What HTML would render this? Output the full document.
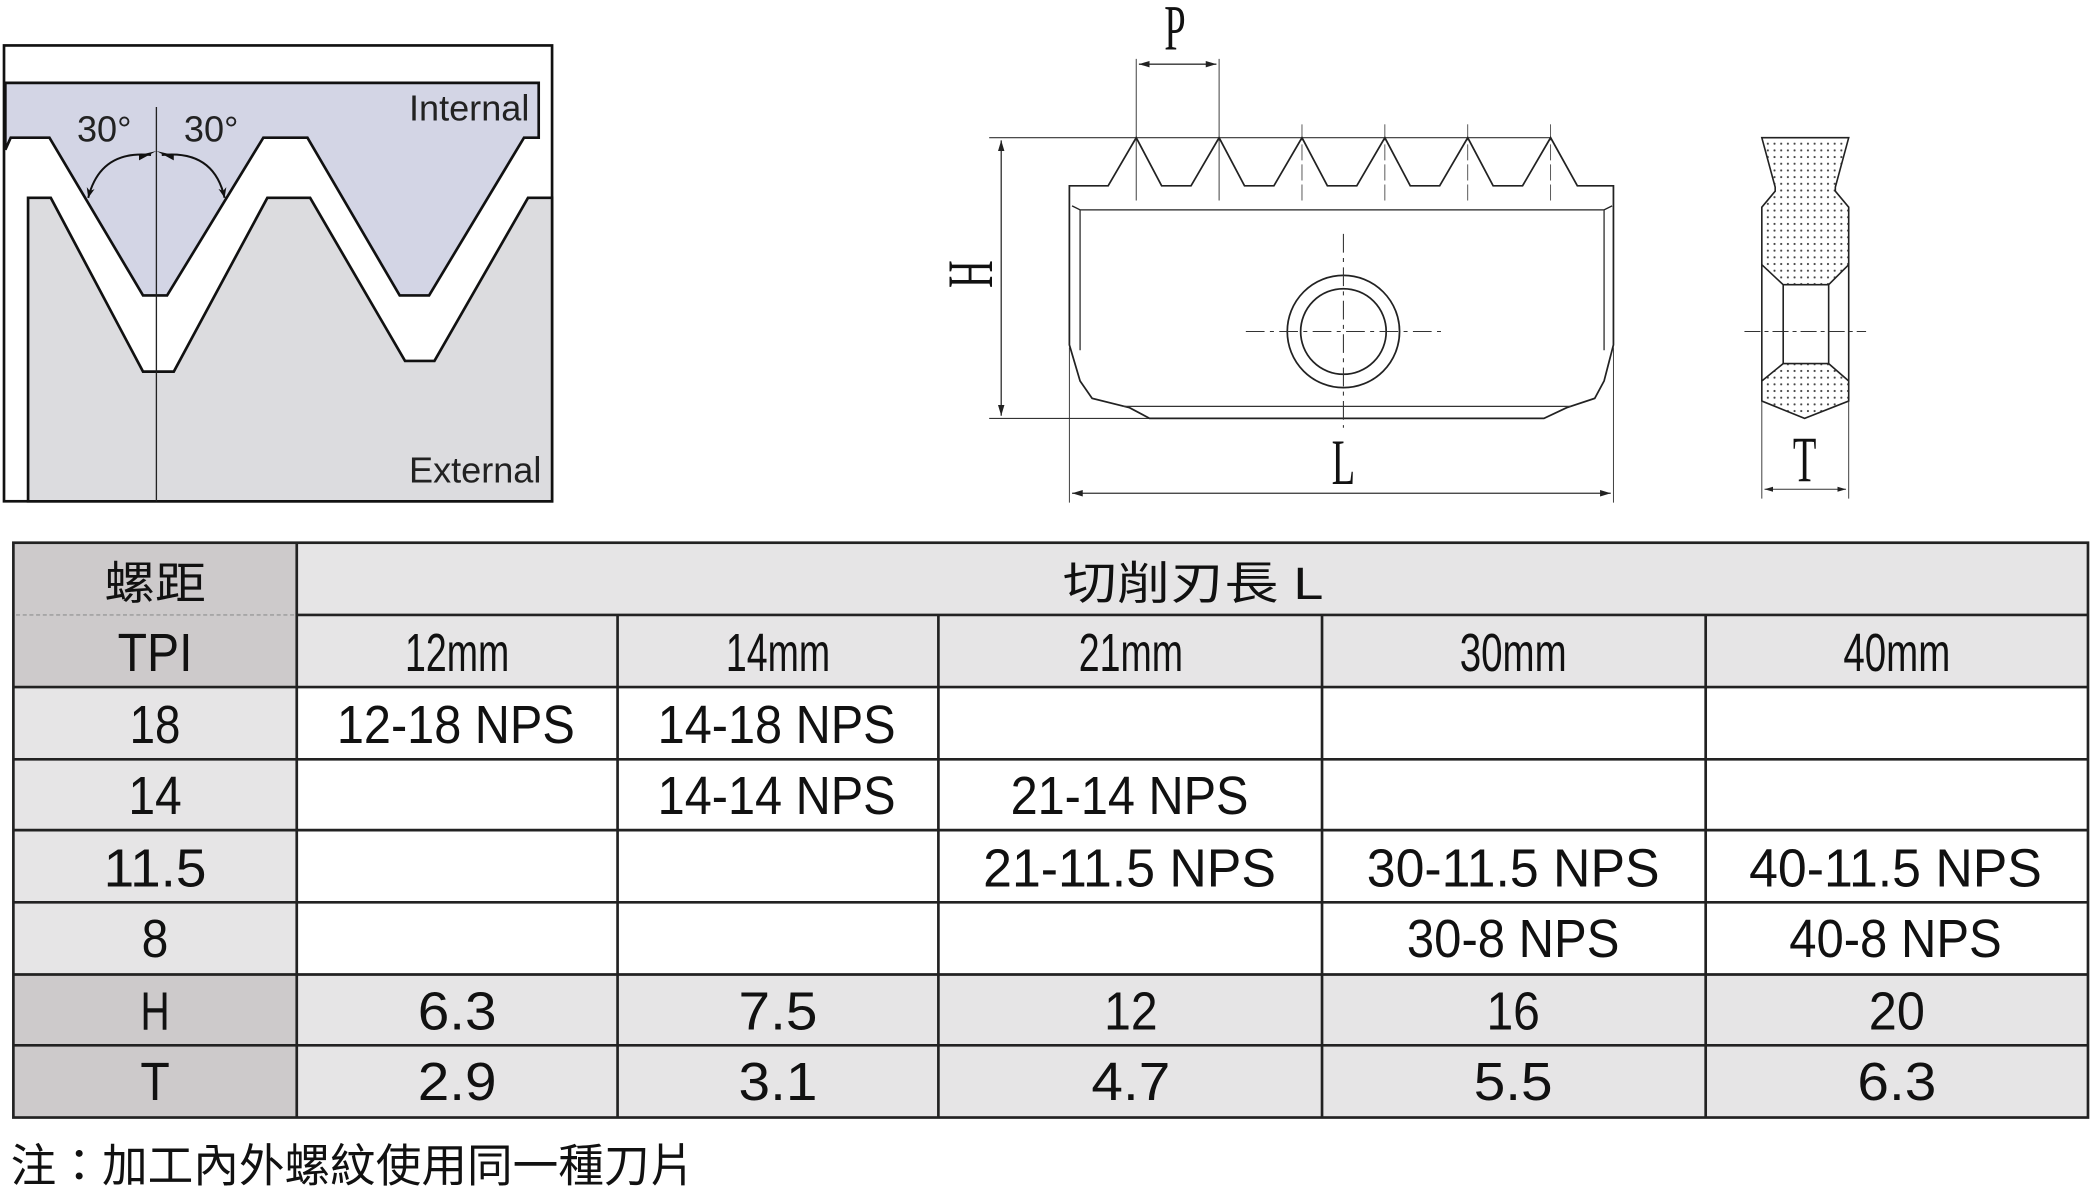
<!DOCTYPE html>
<html><head><meta charset="utf-8"><style>
html,body{margin:0;padding:0;background:#fff;}
svg{display:block;}
.t{font-family:"Liberation Sans Narrow","Liberation Sans","Noto Sans CJK TC",sans-serif;font-size:40px;fill:#111;text-anchor:middle;}
.c{font-family:"Liberation Sans","Noto Sans CJK TC",sans-serif;font-size:34px;fill:#111;}
.s{font-family:"Liberation Serif",serif;fill:#111;text-anchor:middle;}
</style></head><body>
<svg width="2096" height="1198" viewBox="0 0 1568 896.2" preserveAspectRatio="none" xmlns="http://www.w3.org/2000/svg">
<defs>
<pattern id="dots" width="5" height="5" patternUnits="userSpaceOnUse"><rect width="5" height="5" fill="#fff"/><circle cx="2.5" cy="2.5" r="0.8" fill="#444"/></pattern>
<marker id="ar" viewBox="0 0 10 10" refX="10" refY="5" markerWidth="8" markerHeight="8" orient="auto-start-reverse"><path d="M0,2 L10,5 L0,8 Z" fill="#222"/></marker>
<marker id="ar2" viewBox="0 0 10 10" refX="10" refY="5" markerWidth="5" markerHeight="5" orient="auto"><path d="M0,1 L10,5 L0,9 L3,5 Z" fill="#111"/></marker>
</defs>

<rect x="3" y="34" width="410" height="341" fill="#fff" stroke="#111" stroke-width="2"/>
<path d="M4,62 L403,62 L403,103 L392,103 L321,221 L299,221 L230,103 L197,103 L125,221 L107,221 L37,103 L8,103 L4,112 Z" fill="#d3d5e5" stroke="#111" stroke-width="2"/>
<path d="M21,375 L21,148 L38,148 L107,278 L130,278 L200,148 L232,148 L303,270 L325,270 L395,148 L413,148 L413,375 Z" fill="#dcdcdf" stroke="#111" stroke-width="2"/>
<line x1="117" y1="80" x2="117" y2="375" stroke="#222" stroke-width="1"/>
<path d="M113,116 Q75,112 66,148" fill="none" stroke="#111" stroke-width="1.5" marker-end="url(#ar2)"/>
<path d="M121,116 Q160,112 168,148" fill="none" stroke="#111" stroke-width="1.5" marker-end="url(#ar2)"/>
<path d="M104,116 L117,113 L104,120 Z M130,116 L117,113 L130,120 Z" fill="#111"/>
<text x="78" y="106" font-family="Liberation Sans" font-size="27" fill="#222" text-anchor="middle">30°</text>
<text x="158" y="106" font-family="Liberation Sans" font-size="27" fill="#222" text-anchor="middle">30°</text>
<text x="396" y="90" font-family="Liberation Sans" font-size="27" fill="#222" text-anchor="end">Internal</text>
<text x="405" y="361" font-family="Liberation Sans" font-size="27" fill="#222" text-anchor="end">External</text>

<g stroke="#333" fill="none" stroke-width="1">
<line x1="740" y1="103" x2="1160" y2="103" stroke-width="0.8"/>
<line x1="740" y1="313" x2="860" y2="313" stroke-width="0.8"/>
<line x1="749" y1="105" x2="749" y2="311" marker-start="url(#ar)" marker-end="url(#ar)"/>
<line x1="850" y1="44" x2="850" y2="150" stroke-width="0.7"/>
<line x1="912" y1="44" x2="912" y2="150" stroke-width="0.7"/>
<line x1="852" y1="48" x2="910" y2="48" marker-start="url(#ar)" marker-end="url(#ar)"/>
<line x1="974" y1="93" x2="974" y2="150" stroke-width="0.6" stroke-dasharray="12,3"/>
<line x1="1036" y1="93" x2="1036" y2="150" stroke-width="0.6" stroke-dasharray="12,3"/>
<line x1="1098" y1="93" x2="1098" y2="150" stroke-width="0.6" stroke-dasharray="12,3"/>
<line x1="1160" y1="93" x2="1160" y2="150" stroke-width="0.6" stroke-dasharray="12,3"/>
<path d="M800,139 L829,139 L850,103 L869,139 L891,139 L912,103 L931,139 L953,139 L974,103 L993,139 L1015,139 L1036,103 L1055,139 L1077,139 L1098,103 L1117,139 L1139,139 L1160,103 L1180,139 L1207,139 L1207,258 L1200,285 L1193,298 L1172,305 L1155,313 L860,313 L845,305 L817,298 L808,285 L800,258 Z" stroke="#222" stroke-width="1.3"/>
<path d="M802,154 L808,157 L1200,157 L1206,154" stroke="#222"/>
<line x1="808" y1="157" x2="808" y2="262"/>
<line x1="1200" y1="157" x2="1200" y2="262"/>
<line x1="840" y1="304" x2="1175" y2="304"/>
<circle cx="1005" cy="248" r="42" stroke="#222" stroke-width="1.3"/>
<circle cx="1005" cy="248" r="32" stroke="#222" stroke-width="1.3"/>
<line x1="932" y1="248" x2="1078" y2="248" stroke-dasharray="14,4,3,4" stroke-width="0.8"/>
<line x1="1005" y1="175" x2="1005" y2="320" stroke-dasharray="14,4,3,4" stroke-width="0.8"/>
<line x1="800" y1="260" x2="800" y2="376" stroke-width="0.7"/>
<line x1="1207" y1="260" x2="1207" y2="376" stroke-width="0.7"/>
<line x1="802" y1="369" x2="1205" y2="369" marker-start="url(#ar)" marker-end="url(#ar)"/>
</g>
<text class="s" x="879" y="37" font-size="48" transform="translate(879 0) scale(0.6 1) translate(-879 0)">P</text>
<text class="s" x="1005" y="362" font-size="48" transform="translate(1005 0) scale(0.6 1) translate(-1005 0)">L</text>
<text class="s" x="0" y="0" font-size="48" transform="translate(742 205) rotate(-90) scale(0.6 1)">H</text>

<g stroke="#222" stroke-width="1.2">
<path d="M1318,103 L1383,103 L1373,140 L1373,143 L1383,155 L1383,198 L1368,213 L1334,213 L1318,198 L1318,155 L1328,143 L1328,140 Z" fill="url(#dots)"/>
<path d="M1334,272 L1368,272 L1383,285 L1383,300 L1350,313 L1318,300 L1318,285 Z" fill="url(#dots)"/>
<line x1="1318" y1="198" x2="1318" y2="285"/>
<line x1="1383" y1="198" x2="1383" y2="285"/>
<line x1="1334" y1="213" x2="1334" y2="272"/>
<line x1="1368" y1="213" x2="1368" y2="272"/>
</g>
<g stroke="#333" stroke-width="0.8" fill="none">
<line x1="1305" y1="248" x2="1396" y2="248" stroke-dasharray="12,3,3,3"/>
<line x1="1318" y1="300" x2="1318" y2="373" stroke-width="0.7"/>
<line x1="1383" y1="300" x2="1383" y2="373" stroke-width="0.7"/>
<line x1="1320" y1="366" x2="1381" y2="366" marker-start="url(#ar)" marker-end="url(#ar)"/>
</g>
<text class="s" x="1350" y="360" font-size="48" transform="translate(1350 0) scale(0.6 1) translate(-1350 0)">T</text>

<g>
<rect x="10" y="406" width="212" height="108" fill="#cdcacb"/>
<rect x="222" y="406" width="1340" height="108" fill="#e6e5e6"/>
<rect x="10" y="514" width="212" height="215" fill="#e6e5e6"/>
<rect x="222" y="514" width="1340" height="215" fill="#fff"/>
<rect x="10" y="729" width="212" height="107" fill="#cdcacb"/>
<rect x="222" y="729" width="1340" height="107" fill="#e6e5e6"/>
</g>
<g stroke="#222" stroke-width="2">
<rect x="10" y="406" width="1552" height="430" fill="none"/>
<line x1="222" y1="460" x2="1562" y2="460"/>
<line x1="10" y1="514" x2="1562" y2="514"/>
<line x1="10" y1="568" x2="1562" y2="568"/>
<line x1="10" y1="621" x2="1562" y2="621"/>
<line x1="10" y1="675" x2="1562" y2="675"/>
<line x1="10" y1="729" x2="1562" y2="729"/>
<line x1="10" y1="782" x2="1562" y2="782"/>
<line x1="222" y1="406" x2="222" y2="836"/>
<line x1="462" y1="460" x2="462" y2="836"/>
<line x1="702" y1="460" x2="702" y2="836"/>
<line x1="989" y1="460" x2="989" y2="836"/>
<line x1="1276" y1="460" x2="1276" y2="836"/>
</g>
<line x1="12" y1="460" x2="220" y2="460" stroke="#999" stroke-width="1" stroke-dasharray="3,2"/>

<text class="c" x="78" y="448" textLength="76" lengthAdjust="spacingAndGlyphs">螺距</text>
<text class="c" x="795" y="448" textLength="195" lengthAdjust="spacingAndGlyphs">切削刃長 L</text>
<g class="t">
<text x="116" y="502" textLength="56" lengthAdjust="spacingAndGlyphs">TPI</text>
<text x="342" y="502" textLength="78" lengthAdjust="spacingAndGlyphs">12mm</text>
<text x="582" y="502" textLength="78" lengthAdjust="spacingAndGlyphs">14mm</text>
<text x="846" y="502" textLength="78" lengthAdjust="spacingAndGlyphs">21mm</text>
<text x="1132" y="502" textLength="80" lengthAdjust="spacingAndGlyphs">30mm</text>
<text x="1419" y="502" textLength="80" lengthAdjust="spacingAndGlyphs">40mm</text>

<text x="116" y="556" textLength="38" lengthAdjust="spacingAndGlyphs">18</text>
<text x="341" y="556" textLength="178" lengthAdjust="spacingAndGlyphs">12-18 NPS</text>
<text x="581" y="556" textLength="178" lengthAdjust="spacingAndGlyphs">14-18 NPS</text>

<text x="116" y="609" textLength="40" lengthAdjust="spacingAndGlyphs">14</text>
<text x="581" y="609" textLength="178" lengthAdjust="spacingAndGlyphs">14-14 NPS</text>
<text x="845" y="609" textLength="178" lengthAdjust="spacingAndGlyphs">21-14 NPS</text>

<text x="116" y="663" textLength="77" lengthAdjust="spacingAndGlyphs">11.5</text>
<text x="845" y="663" textLength="219" lengthAdjust="spacingAndGlyphs">21-11.5 NPS</text>
<text x="1132" y="663" textLength="219" lengthAdjust="spacingAndGlyphs">30-11.5 NPS</text>
<text x="1418" y="663" textLength="219" lengthAdjust="spacingAndGlyphs">40-11.5 NPS</text>

<text x="116" y="716" textLength="20" lengthAdjust="spacingAndGlyphs">8</text>
<text x="1132" y="716" textLength="159" lengthAdjust="spacingAndGlyphs">30-8 NPS</text>
<text x="1418" y="716" textLength="159" lengthAdjust="spacingAndGlyphs">40-8 NPS</text>

<text x="116" y="770" textLength="22" lengthAdjust="spacingAndGlyphs">H</text>
<text x="342" y="770" textLength="59" lengthAdjust="spacingAndGlyphs">6.3</text>
<text x="582" y="770" textLength="59" lengthAdjust="spacingAndGlyphs">7.5</text>
<text x="846" y="770" textLength="40" lengthAdjust="spacingAndGlyphs">12</text>
<text x="1132" y="770" textLength="40" lengthAdjust="spacingAndGlyphs">16</text>
<text x="1419" y="770" textLength="42" lengthAdjust="spacingAndGlyphs">20</text>

<text x="116" y="823" textLength="22" lengthAdjust="spacingAndGlyphs">T</text>
<text x="342" y="823" textLength="59" lengthAdjust="spacingAndGlyphs">2.9</text>
<text x="582" y="823" textLength="59" lengthAdjust="spacingAndGlyphs">3.1</text>
<text x="846" y="823" textLength="59" lengthAdjust="spacingAndGlyphs">4.7</text>
<text x="1132" y="823" textLength="59" lengthAdjust="spacingAndGlyphs">5.5</text>
<text x="1419" y="823" textLength="59" lengthAdjust="spacingAndGlyphs">6.3</text>
</g>
<text class="c" x="8" y="884" font-size="31" textLength="512" lengthAdjust="spacingAndGlyphs">注：加工內外螺紋使用同一種刀片</text>
</svg>
</body></html>
